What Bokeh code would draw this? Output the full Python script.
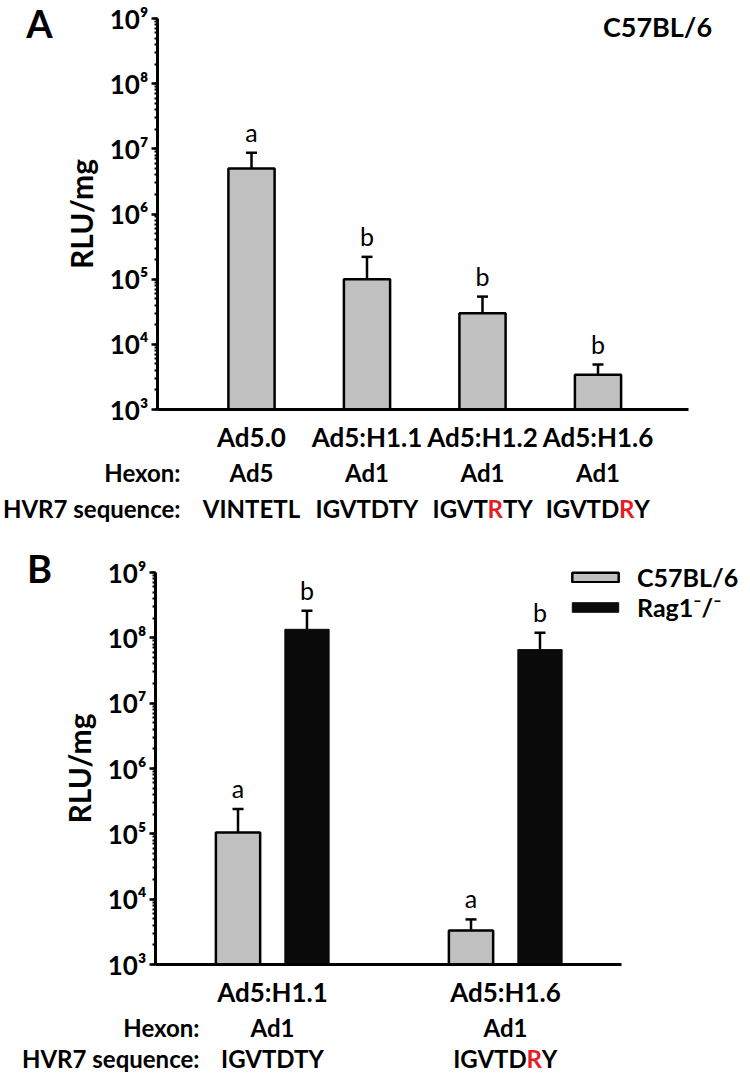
from bokeh.plotting import figure
from bokeh.models import (ColumnDataSource, Range1d, LogTicker, FixedTicker,
                          CustomJSTickFormatter, Whisker, TeeHead, Label,
                          Legend, LegendItem)
from bokeh.layouts import column
from bokeh.embed import file_html
from bokeh.resources import INLINE
from bokeh.core.properties import value

FONT = "Lato"
GRAY = "#c0c0c0"
BLACK = "#0a0a0a"
RED = "#e31e24"

# ---------------- data: panel A ----------------
cats_a = ["Ad5.0", "Ad5:H1.1", "Ad5:H1.2", "Ad5:H1.6"]
rlu_a = [5.0e6, 1.0e5, 3.0e4, 3.4e3]
err_a = [8.7e6, 2.2e5, 5.4e4, 4.9e3]
sig_a = ["a", "b", "b", "b"]
hexon_a = ["Ad5", "Ad1", "Ad1", "Ad1"]
hvr7_a = ["VINTETL", "IGVTDTY", "IGVTRTY", "IGVTDRY"]
mut_a = [-1, -1, 4, 5]          # position of the red residue (-1 = none)

# ---------------- data: panel B ----------------
cats_b = ["Ad5:H1.1", "Ad5:H1.6"]
c57_b = [1.05e5, 3.3e3]
c57_err_b = [2.4e5, 4.9e3]
rag_b = [1.35e8, 6.6e7]
rag_err_b = [2.6e8, 1.2e8]
sig_c57_b = ["a", "a"]
sig_rag_b = ["b", "b"]
hexon_b = ["Ad1", "Ad1"]
hvr7_b = ["IGVTDTY", "IGVTDRY"]
mut_b = [-1, 5]
series_b = ["C57BL/6", "Rag1\u207b/\u207b"]

Y_LO, Y_HI = 1e3, 1e9

SUP_JS = """
const sup = {"0":"\u2070","1":"\u00b9","2":"\u00b2","3":"\u00b3","4":"\u2074",
             "5":"\u2075","6":"\u2076","7":"\u2077","8":"\u2078","9":"\u2079","-":"\u207b"};
const e = Math.round(Math.log10(tick));
return "10" + String(e).split("").map(c => sup[c]).join("");
"""

# approximate Lato Bold advance widths (em) used to place the red residue
W = {"I": 0.29, "G": 0.73, "V": 0.68, "T": 0.58, "D": 0.75, "R": 0.63,
     "Y": 0.63, "N": 0.76, "E": 0.56, "L": 0.52}

# empirical baseline correction (px) of the text anchoring, by font size
BASE_FIX = {24: 10, 25: 9, 27: 14, 38: 18, 40: 19}


class Geo:
    """pixel <-> data helper for a figure whose frame covers the whole canvas"""
    def __init__(self, w, h, x0, unit, ytop, ybot):
        self.w, self.h, self.x0, self.unit = w, h, x0, unit
        self.ytop, self.ybot = ytop, ybot
        self.ppd = (ybot - ytop) / 6.0

    def X(self, px):
        return (px - self.x0) / self.unit

    def Y(self, py):
        return 10 ** (9 - (py - self.ytop) / self.ppd)


def make_fig(g, ax_left, ax_right):
    p = figure(width=g.w, height=g.h, y_axis_type="log",
               x_range=Range1d(g.X(0), g.X(g.w)),
               y_range=Range1d(g.Y(g.h), g.Y(0)),
               min_border=0, min_border_left=0, min_border_right=0,
               min_border_top=0, min_border_bottom=0,
               output_backend="svg", toolbar_location=None)
    p.outline_line_color = None
    p.xgrid.visible = False
    p.ygrid.visible = False
    p.background_fill_color = "white"
    p.border_fill_color = "white"
    ya = p.yaxis[0]
    ya.fixed_location = g.X(ax_left)
    ya.bounds = (Y_LO, Y_HI)
    ya.ticker = LogTicker(mantissas=[1], desired_num_ticks=7, num_minor_ticks=10)
    ya.formatter = CustomJSTickFormatter(code=SUP_JS)
    ya.axis_line_width = 3
    ya.axis_line_color = "black"
    ya.major_tick_line_color = "black"
    ya.minor_tick_line_color = "black"
    ya.major_tick_line_width = 2.5
    ya.major_tick_in = 0
    ya.major_tick_out = 6
    ya.minor_tick_line_width = 2
    ya.minor_tick_in = 0
    ya.minor_tick_out = 3
    ya.major_label_text_font = FONT
    ya.major_label_text_font_style = "bold"
    ya.major_label_text_font_size = "26px"
    ya.major_label_text_color = "black"
    ya.major_label_standoff = 3
    ya.axis_label = "RLU/mg"
    ya.axis_label_text_font = FONT
    ya.axis_label_text_font_style = "bold"
    ya.axis_label_text_font_size = "30px"
    ya.axis_label_text_color = "black"
    ya.axis_label_standoff = 8
    xa = p.xaxis[0]
    xa.fixed_location = Y_LO
    xa.bounds = (g.X(ax_left), g.X(ax_right))
    xa.axis_line_width = 3
    xa.axis_line_color = "black"
    xa.major_tick_line_color = None
    xa.minor_tick_line_color = None
    xa.major_tick_in = 0
    xa.major_tick_out = 0
    xa.minor_tick_in = 0
    xa.minor_tick_out = 0
    xa.major_label_text_font = FONT
    xa.major_label_text_font_style = "bold"
    xa.major_label_text_font_size = "26px"
    xa.major_label_text_color = "black"
    xa.major_label_standoff = 11
    return p


def lab(p, g, px, py, text, size_px, style="bold", align="center", color="black", xoff=0):
    """label whose x is given in data units and whose baseline sits at canvas row py"""
    p.add_layout(Label(x=px, y=g.Y(py - BASE_FIX[size_px]), x_units="data", y_units="data",
                       text=text, text_font=FONT, text_font_style=style,
                       text_font_size=f"{size_px}px", text_align=align,
                       text_baseline="alphabetic", text_color=color,
                       x_offset=xoff))


def seq_label(p, g, x, py, seq, idx, size_px):
    if idx < 0:
        lab(p, g, x, py, seq, size_px)
        return
    pre, r, suf = seq[:idx], seq[idx], seq[idx + 1:]
    wpre = sum(W[c] for c in pre) * size_px
    wr = W[r] * size_px
    wsuf = sum(W[c] for c in suf) * size_px
    total = wpre + wr + wsuf
    rc = wpre + wr / 2 - total / 2
    lab(p, g, x, py, pre, size_px, align="right", xoff=rc - wr / 2)
    lab(p, g, x, py, r, size_px, align="center", color=RED, xoff=rc)
    lab(p, g, x, py, suf, size_px, align="left", xoff=rc + wr / 2)


def bars(p, g, xs, top, err, sig, fill, line_color, line_width, width):
    lift = 12 + BASE_FIX[25]
    src = ColumnDataSource(dict(x=xs, top=top, err=err, sig=sig,
                                sig_y=[e * 10 ** (lift / g.ppd) for e in err]))
    r = p.vbar(x="x", top="top", bottom=Y_LO, width=width, source=src,
               fill_color=fill, line_color=line_color, line_width=line_width)
    p.add_layout(Whisker(base="x", lower="top", upper="err", source=src,
                         dimension="height", line_width=2.5, line_color="black",
                         lower_head=None,
                         upper_head=TeeHead(size=11, line_width=2.5, line_color="black")))
    p.text(x="x", y="sig_y", text="sig", source=src, text_align="center",
           text_baseline="alphabetic",
           text_font=value(FONT), text_font_size="25px", text_color="black")
    return r


# ======================= Panel A =======================
gA = Geo(750, 538, x0=251, unit=115.5, ytop=18, ybot=409)
pA = make_fig(gA, 157, 688)
xs_a = list(range(len(cats_a)))
pA.xaxis[0].ticker = FixedTicker(ticks=xs_a)
pA.xaxis[0].major_label_overrides = {i: c for i, c in zip(xs_a, cats_a)}
bars(pA, gA, xs_a, rlu_a, err_a, sig_a, GRAY, "black", 2.5, 0.40)

lab(pA, gA, gA.X(39), 40, "A", 38)
lab(pA, gA, gA.X(657), 40, "C57BL/6", 27)
lab(pA, gA, gA.X(180), 482, "Hexon:", 24, align="right")
lab(pA, gA, gA.X(180), 518, "HVR7 sequence:", 24, align="right")
for i in xs_a:
    lab(pA, gA, i, 482, hexon_a[i], 24)
    seq_label(pA, gA, i, 518, hvr7_a[i], mut_a[i], 24)

# ======================= Panel B =======================
gB = Geo(750, 539, x0=272, unit=233, ytop=34, ybot=426)
pB = make_fig(gB, 155, 621)
xs_b = list(range(len(cats_b)))
pB.xaxis[0].ticker = FixedTicker(ticks=xs_b)
pB.xaxis[0].major_label_overrides = {i: c for i, c in zip(xs_b, cats_b)}

DODGE = 0.148
r_c = bars(pB, gB, [i - DODGE for i in xs_b], c57_b, c57_err_b, sig_c57_b,
           GRAY, "black", 2.5, 0.19)
r_r = bars(pB, gB, [i + DODGE for i in xs_b], rag_b, rag_err_b, sig_rag_b,
           BLACK, BLACK, 1, 0.19)

legend = Legend(items=[LegendItem(label=series_b[0], renderers=[r_c]),
                       LegendItem(label=series_b[1], renderers=[r_r])],
                location=(566, 455), orientation="vertical",
                glyph_width=58, glyph_height=12, label_standoff=13,
                padding=0, margin=0, spacing=0,
                border_line_color=None, background_fill_alpha=0,
                label_text_font=FONT, label_text_font_style="bold",
                label_text_font_size="25px", label_text_color="black")
pB.add_layout(legend)

lab(pB, gB, gB.X(39), 47, "B", 38)
lab(pB, gB, gB.X(199), 499, "Hexon:", 24, align="right")
lab(pB, gB, gB.X(199), 530, "HVR7 sequence:", 24, align="right")
for i in xs_b:
    lab(pB, gB, i, 499, hexon_b[i], 24)
    seq_label(pB, gB, i, 530, hvr7_b[i], mut_b[i], 24)

page = column(pA, pB, spacing=0)
open("out.html", "w").write(file_html(page, INLINE))
